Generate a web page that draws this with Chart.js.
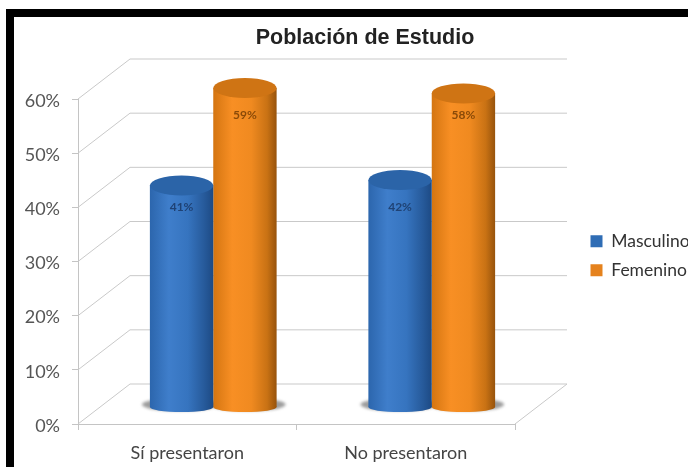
<!DOCTYPE html>
<html lang="es">
<head>
<meta charset="utf-8">
<title>Población de Estudio</title>
<style>
html,body{margin:0;padding:0;background:#fff;width:688px;height:467px;overflow:hidden}
#c{position:absolute;left:0;top:0;filter:blur(0.7px)}
#frame{position:absolute;left:6px;top:9px;right:0;bottom:0;border-left:8px solid #000;border-top:8px solid #000;pointer-events:none}
</style>
<script src="https://cdn.jsdelivr.net/npm/chart.js@4"></script>
</head>
<body>
<canvas id="c" width="688" height="467"></canvas>
<div id="frame"></div>
<script>
const titleText = 'Población de Estudio';
const categories = ['Sí presentaron', 'No presentaron'];
const seriesNames = ['Masculino', 'Femenino'];
const masculino = [41, 42];
const femenino = [59, 58];
const yTicks = [0, 10, 20, 30, 40, 50, 60];
const labelAnchor = [37, 54];
const labelInk = ['#1f4274', '#8a4a08'];
const solidColors = ['#2f6db5', '#e5821d'];
const capColors = ['#2b64a8', '#cf7414'];
const gradientStops = [
  [[0, '#2c66ad'], [0.3, '#3f7ecb'], [0.6, '#3674bf'], [0.85, '#275b9c'], [1, '#1d4a84']],
  [[0, '#d47511'], [0.3, '#f88f24'], [0.6, '#f08a20'], [0.85, '#c97214'], [1, '#97530c']]
];

const DEPTH_X = 52, DEPTH_Y = 40;      // back wall offset from the front plane
const BAR_DX = 26, BAR_DY = 16.4;      // bars stand in the middle of the floor
const CAT_PCT = 0.58, CAP_RY = 10, FOOT_RY = 5;

function barGeom(chart, ds, i) {
  const x = chart.scales.x;
  const band = x.width / categories.length;
  const w = band * CAT_PCT / 2;
  const cx = x.getPixelForValue(i) + (ds === 0 ? -w / 2 : w / 2);
  return {cx, w};
}
function cylinderFill(ctx) {
  const chart = ctx.chart;
  if (!chart.chartArea || ctx.dataIndex === undefined) return solidColors[ctx.datasetIndex];
  const g = barGeom(chart, ctx.datasetIndex, ctx.dataIndex);
  const grad = chart.ctx.createLinearGradient(g.cx - g.w / 2, 0, g.cx + g.w / 2, 0);
  gradientStops[ctx.datasetIndex].forEach(s => grad.addColorStop(s[0], s[1]));
  return grad;
}

const cylinders = {
  id: 'cylinders',
  beforeLayout(chart) {
    const lg = chart.legend;
    if (lg && !lg._wrapped) {
      const fit = lg.fit;
      lg.fit = function () { fit.call(this); this.width = 173; };
      lg._wrapped = true;
    }
  },
  afterLayout(chart) {
    const lg = chart.legend;
    const dy = 221 - lg.top;
    lg.top += dy; lg.bottom += dy;
    lg.left = 579; lg.right = 688;
    chart.titleBlock.left = 42;
  },
  beforeDatasetsDraw(chart) {
    const c = chart.ctx, y = chart.scales.y, x = chart.scales.x;
    const L = x.left, R = x.right;
    c.save();
    c.strokeStyle = '#c9c9c9';
    c.lineWidth = 1;
    yTicks.forEach(v => {
      const py = y.getPixelForValue(v);
      c.beginPath();
      c.moveTo(L, py);
      c.lineTo(L + DEPTH_X, py - DEPTH_Y);
      c.lineTo(R + DEPTH_X, py - DEPTH_Y);
      c.stroke();
    });
    const py0 = y.getPixelForValue(0);
    c.beginPath();
    c.moveTo(R, py0);
    c.lineTo(R + DEPTH_X, py0 - DEPTH_Y);
    c.stroke();
    // floor shadows
    c.fillStyle = 'rgba(90,90,90,0.6)';
    c.filter = 'blur(1.5px)';
    [masculino, femenino].forEach((vals, ds) => vals.forEach((_, i) => {
      const g = barGeom(chart, ds, i);
      c.beginPath();
      c.ellipse(g.cx + BAR_DX + (ds === 0 ? -2 : 3), py0 - BAR_DY - 3, g.w / 2 + 6, 6.5, 0, 0, Math.PI * 2);
      c.fill();
    }));
    c.restore();
  },
  beforeDatasetDraw(chart, args) {
    const c = chart.ctx;
    c.save();
    c.translate(BAR_DX, -BAR_DY);
    args.meta.data.forEach(el => {
      const o = el.options;
      c.fillStyle = o.backgroundColor;
      c.beginPath();
      c.ellipse(el.x, el.base, el.width / 2, FOOT_RY, 0, 0, Math.PI * 2);
      c.fill();
    });
  },
  afterDatasetDraw(chart, args) {
    const c = chart.ctx, ds = args.index;
    args.meta.data.forEach((el, i) => {
      c.fillStyle = capColors[ds];
      c.beginPath();
      c.ellipse(el.x, el.y, el.width / 2, CAP_RY, 0, 0, Math.PI * 2);
      c.fill();
      c.fillStyle = labelInk[ds];
      c.font = 'bold 12px Lato';
      c.textAlign = 'center';
      c.textBaseline = 'middle';
      const v = chart.data.datasets[ds].data[i];
      c.fillText(v + '%', el.x, chart.scales.y.getPixelForValue(labelAnchor[ds]));
    });
    c.restore();
  }
};

new Chart(document.getElementById('c'), {
  type: 'bar',
  data: {
    labels: categories,
    datasets: [
      {label: seriesNames[0], data: masculino, backgroundColor: cylinderFill,
       borderWidth: 0, barPercentage: 1, categoryPercentage: CAT_PCT},
      {label: seriesNames[1], data: femenino, backgroundColor: cylinderFill,
       borderWidth: 0, barPercentage: 1, categoryPercentage: CAT_PCT}
    ]
  },
  options: {
    responsive: false,
    animation: false,
    layout: {padding: 0},
    scales: {
      x: {
        afterFit(s) { s.height = 43; },
        border: {color: '#c4c4c4'},
        grid: {drawOnChartArea: false, color: '#c4c4c4', tickLength: 6},
        ticks: {color: '#444', font: {family: 'Lato', size: 18}, padding: 12, maxRotation: 0}
      },
      y: {
        min: 0, max: 60,
        afterFit(s) { s.width = 78; },
        border: {color: '#c4c4c4'},
        grid: {drawOnChartArea: false, color: '#c4c4c4', tickLength: 6},
        afterBuildTicks(s) { s.ticks = yTicks.map(v => ({value: v})); },
        ticks: {color: '#555', font: {family: 'Lato', size: 18}, padding: 12, labelOffset: 2, callback: v => v + '%'}
      }
    },
    plugins: {
      title: {display: true, text: titleText, color: '#222',
        font: {family: 'Liberation Sans', size: 21.5, weight: 'bold'},
        padding: {top: 25, bottom: 48.2}},
      legend: {
        position: 'right', align: 'start',
        labels: {
          color: '#333', font: {family: 'Lato', size: 17.5}, boxWidth: 12, boxHeight: 12, padding: 11.5,
          generateLabels(chart) {
            const items = Chart.defaults.plugins.legend.labels.generateLabels(chart);
            items.forEach((it, i) => { it.fillStyle = solidColors[i]; it.strokeStyle = solidColors[i]; it.lineWidth = 0; });
            return items;
          }
        }
      },
      tooltip: {enabled: false}
    }
  },
  plugins: [cylinders]
});
</script>
</body>
</html>
